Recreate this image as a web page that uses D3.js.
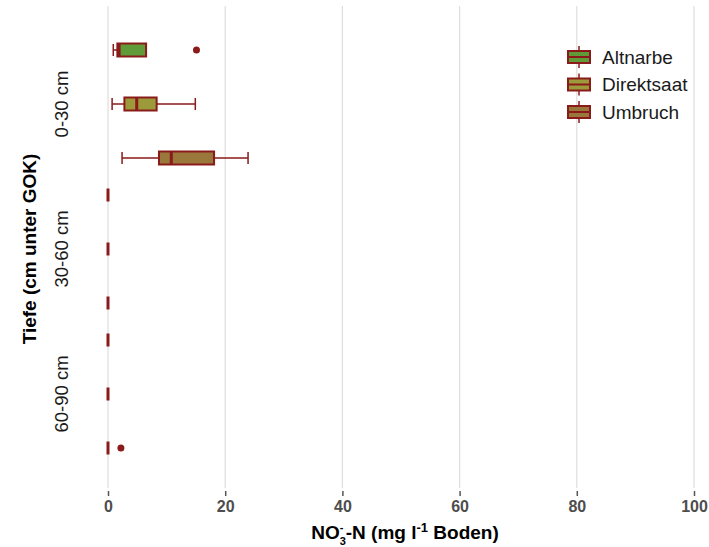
<!DOCTYPE html>
<html>
<head>
<meta charset="utf-8">
<script src="https://cdn.jsdelivr.net/npm/d3@7"></script>
<style>
  body { margin: 0; background: #fff; }
  text { font-family: "Liberation Sans", Arial, sans-serif; }
</style>
</head>
<body>
<div id="chart"></div>
<script>
// depth classes and treatments
const depths = ["0-30 cm", "30-60 cm", "60-90 cm"];
const treatments = ["Altnarbe", "Direktsaat", "Umbruch"];

// box stats, order: depth x treatment
const whiskerLow  = [0.9, 0.7, 2.4,  0, 0, 0,  0, 0, 0];
const q1          = [1.6, 2.8, 8.7,  0, 0, 0,  0, 0, 0];
const median      = [1.9, 4.9, 10.8, 0, 0, 0,  0, 0, 0];
const q3          = [6.5, 8.3, 18.1, 0, 0, 0,  0, 0, 0];
const whiskerHigh = [6.5, 14.9, 23.9, 0, 0, 0, 0, 0, 0];

const outlierDepth = ["0-30 cm", "60-90 cm"];
const outlierTreat = ["Altnarbe", "Umbruch"];
const outlierValue = [15.1, 2.2];

const xTicks = [0, 20, 40, 60, 80, 100];

const fills = {Altnarbe: "#5f9b39", Direktsaat: "#9c9a3a", Umbruch: "#9a783c"};
const edge = "#8b1a1a";

// build rows
let boxes = [];
depths.forEach((d, i) => {
    treatments.forEach((t, j) => {
        let k = i * 3 + j;
        boxes.push({depth: d, treat: t, lo: whiskerLow[k], q1: q1[k], med: median[k], q3: q3[k], hi: whiskerHigh[k]});
    });
});
let outliers = outlierValue.map((v, i) => ({depth: outlierDepth[i], treat: outlierTreat[i], value: v}));

const W = 709, H = 547;
const svg = d3.select("#chart").append("svg")
    .attr("width", W)
    .attr("height", H);

// scales
const x = d3.scaleLinear().domain([0, 100]).range([108, 694]);
const y = d3.scalePoint().domain(depths).range([17, 481]).padding(0.6);
const yInner = d3.scalePoint().domain(treatments).range([-54, 54]);
const boxH = 13;

const yPos = (d, t) => y(d) + yInner(t);

// vertical grid
svg.append("g")
    .selectAll("line")
    .data(xTicks)
    .enter()
    .append("line")
    .attr("x1", d => x(d)).attr("x2", d => x(d))
    .attr("y1", 6).attr("y2", 488)
    .attr("stroke", "#dedede")
    .attr("stroke-width", 1.2);

// x axis ticks + labels
const xAxis = svg.append("g")
    .attr("transform", "translate(0,491)")
    .call(d3.axisBottom(x).tickValues(xTicks).tickSize(5).tickPadding(5));
xAxis.select(".domain").remove();
xAxis.selectAll(".tick line").attr("stroke", "#555").attr("stroke-width", 1.5);
xAxis.selectAll(".tick text")
    .attr("fill", "#4d4d4d")
    .attr("font-size", 16)
    .attr("font-weight", "bold")
    .attr("font-family", "Liberation Sans, Arial, sans-serif");

// y labels
svg.append("g")
    .selectAll("text")
    .data(depths)
    .enter()
    .append("text")
    .attr("transform", d => `translate(68,${y(d)}) rotate(-90)`)
    .attr("text-anchor", "middle")
    .attr("font-size", 18.5)
    .attr("fill", "#1a1a1a")
    .text(d => d);

// boxes
const g = svg.append("g");
let bx = g.selectAll(".box")
    .data(boxes)
    .enter()
    .append("g")
    .attr("class", "box")
    .attr("transform", d => `translate(0,${yPos(d.depth, d.treat)})`);

bx.append("line")
    .attr("x1", d => x(d.lo)).attr("x2", d => x(d.q1))
    .attr("stroke", edge).attr("stroke-width", 1.5);
bx.append("line")
    .attr("x1", d => x(d.q3)).attr("x2", d => x(d.hi))
    .attr("stroke", edge).attr("stroke-width", 1.5);
bx.append("line")
    .attr("x1", d => x(d.lo)).attr("x2", d => x(d.lo))
    .attr("y1", -boxH / 2 + 0.5).attr("y2", boxH / 2 - 0.5)
    .attr("stroke", edge).attr("stroke-width", 1.5);
bx.append("line")
    .attr("x1", d => x(d.hi)).attr("x2", d => x(d.hi))
    .attr("y1", -boxH / 2 + 0.5).attr("y2", boxH / 2 - 0.5)
    .attr("stroke", edge).attr("stroke-width", 1.5);
bx.append("rect")
    .attr("x", d => x(d.q1))
    .attr("width", d => x(d.q3) - x(d.q1))
    .attr("y", -boxH / 2)
    .attr("height", boxH)
    .attr("fill", d => fills[d.treat])
    .attr("stroke", edge)
    .attr("stroke-width", 2);
bx.append("line")
    .attr("x1", d => x(d.med)).attr("x2", d => x(d.med))
    .attr("y1", -boxH / 2).attr("y2", boxH / 2)
    .attr("stroke", edge).attr("stroke-width", 3);

// outliers
g.selectAll(".outlier")
    .data(outliers)
    .enter()
    .append("circle")
    .attr("class", "outlier")
    .attr("cx", d => x(d.value))
    .attr("cy", d => yPos(d.depth, d.treat))
    .attr("r", 3.5)
    .attr("fill", edge);

// legend
const leg = svg.append("g").attr("transform", "translate(579,57)");
const legItems = leg.selectAll("g")
    .data(treatments)
    .enter()
    .append("g")
    .attr("transform", (d, i) => `translate(0,${i * 27.5})`);
legItems.append("line")
    .attr("y1", -11).attr("y2", 11)
    .attr("stroke", edge).attr("stroke-width", 1.5);
legItems.append("rect")
    .attr("x", -11).attr("y", -6)
    .attr("width", 22).attr("height", 12)
    .attr("fill", d => fills[d])
    .attr("stroke", edge).attr("stroke-width", 2);
legItems.append("line")
    .attr("x1", -11).attr("x2", 11)
    .attr("stroke", edge).attr("stroke-width", 2);
legItems.append("text")
    .attr("x", 23)
    .attr("dy", "0.35em")
    .attr("font-size", 19)
    .attr("fill", "#1a1a1a")
    .text(d => d);

// axis titles
svg.append("text")
    .attr("transform", "translate(36,249) rotate(-90)")
    .attr("text-anchor", "middle")
    .attr("font-size", 19)
    .attr("font-weight", "bold")
    .text("Tiefe (cm unter GOK)");

// x title with stacked super/subscript after NO
const xt = svg.append("text")
    .attr("x", 405).attr("y", 539)
    .attr("text-anchor", "middle")
    .attr("font-size", 19)
    .attr("font-weight", "bold");
xt.append("tspan").text("NO");
xt.append("tspan").attr("dy", -8).attr("font-size", 11).text("-");
xt.append("tspan").attr("dx", -3.7).attr("dy", 13.5).attr("font-size", 11).text("3");
xt.append("tspan").attr("dy", -5.5).text("-N (mg l");
xt.append("tspan").attr("dy", -7).attr("font-size", 13).text("-1");
xt.append("tspan").attr("dy", 7).text(" Boden)");
</script>
</body>
</html>
